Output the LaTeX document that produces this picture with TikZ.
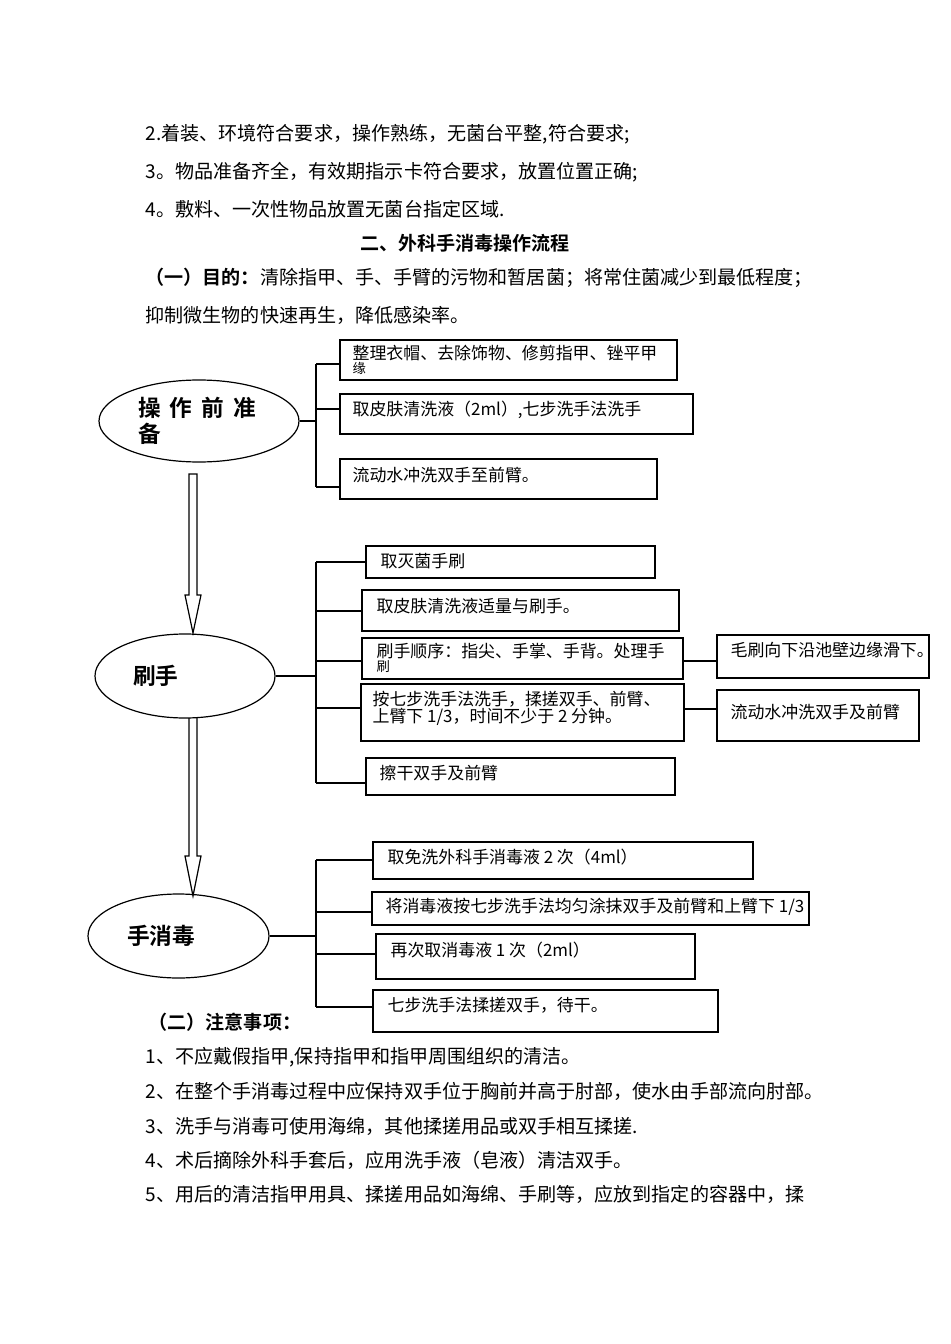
\documentclass[tikz,border=0pt]{standalone}
\usepackage{fontspec}
\setmainfont{Noto Sans CJK SC}[BoldFont={Noto Sans CJK SC Bold}]
\usetikzlibrary{shapes.geometric}

\tikzset{every picture/.style={line width=0.9pt}}
\tikzset{
  itembox/.style 2 args={draw, rectangle, inner sep=0pt, minimum width=#1*0.75pt, minimum height=#2*0.75pt},
  oval/.style n args={3}{draw, ellipse, inner sep=0pt, minimum width=#1*0.75pt, minimum height=#2*0.75pt, text width=#3*0.75pt, align=left, font=\bfseries\fontsize{17}{20}\selectfont},
  bodytext/.style={anchor=west, inner sep=0pt, font=\fontsize{14.3}{17}\selectfont},
  headtext/.style={inner sep=0pt, font=\bfseries\fontsize{14.3}{17}\selectfont},
  boxtext/.style={anchor=west, inner sep=0pt, align=left, font=\fontsize{12.7}{14}\selectfont},
}

\begin{document}
\begin{tikzpicture}[x=0.75pt,y=0.75pt,yscale=-1,xscale=1]
\useasboundingbox (0,0) rectangle (950,1344);

% Text Node
\node [bodytext] (l2) at (145,134) {2.着装、环境符合要求，操作熟练，无菌台平整,符合要求;};
% Text Node
\node [bodytext] (l3) at (145,172) {3。物品准备齐全，有效期指示卡符合要求，放置位置正确;};
% Text Node
\node [bodytext] (l4) at (145,209) {4。敷料、一次性物品放置无菌台指定区域.};
% Text Node
\node [headtext] (title) at (465,243) {二、外科手消毒操作流程};
% Text Node
\node [bodytext] (aim1) at (145,278) {\textbf{（一）目的：}清除指甲、手、手臂的污物和暂居菌；将常住菌减少到最低程度；};
% Text Node
\node [bodytext] (aim2) at (145,315) {抑制微生物的快速再生，降低感染率。};

%Shape: Ellipse
\node [oval={200}{82}{122}] (e1) at (199,421) {操\hspace{.4em}作\hspace{.4em}前\hspace{.4em}准\\备};
%Shape: Ellipse
\node [oval={180}{84}{104}] (e2) at (185,676) {刷手};
%Shape: Ellipse
\node [oval={181}{84}{103}] (e3) at (178.5,936) {手消毒};

%Shape: Down Arrow
\draw (189,474) -- (189,595) -- (185,595) -- (193,633) -- (201,595) -- (197,595) -- (197,474) -- cycle ;
%Shape: Down Arrow
\draw (189,718) -- (189,856) -- (185,856) -- (193,896) -- (201,856) -- (197,856) -- (197,718) ;

%Shape: Rectangle
\node [itembox={337}{40}] (a1) at (508.5,360) {};
\node [itembox={353}{40}] (a2) at (516.5,414) {};
\node [itembox={317}{40}] (a3) at (498.5,479) {};
% Text Node
\node [boxtext, anchor=north west] (a1t) at (352,345) {整理衣帽、去除饰物、修剪指甲、锉平甲\\[-4pt]{\fontsize{10}{10}\selectfont 缘}};
\node [boxtext] (a2t) at (352,410) {取皮肤清洗液（2ml）,七步洗手法洗手};
\node [boxtext] (a3t) at (352,475) {流动水冲洗双手至前臂。};

%Straight Lines
\coordinate (sa1) at (316,364);
\coordinate (sa2) at (316,409);
\coordinate (sa3) at (316,487);
\draw (e1.east) -- (e1.east -| sa1) ;
\draw (sa1) -- (sa3) ;
\draw (sa1) -- (sa1 -| a1.west) ;
\draw (sa2) -- (sa2 -| a2.west) ;
\draw (sa3) -- (sa3 -| a3.west) ;

%Shape: Rectangle
\node [itembox={289}{32}] (b1) at (510.5,562) {};
\node [itembox={317}{41}] (b2) at (520.5,610.5) {};
\node [itembox={321}{41}] (b3) at (522.5,658.5) {};
\node [itembox={323}{57}] (b4) at (522.5,712.5) {};
\node [itembox={309}{37}] (b5) at (520.5,776.5) {};
\node [itembox={212}{43}] (c1) at (823,656.5) {};
\node [itembox={202}{51}] (c2) at (818,715.5) {};
% Text Node
\node [boxtext] (b1t) at (380,561) {取灭菌手刷};
\node [boxtext] (b2t) at (376,606) {取皮肤清洗液适量与刷手。};
\node [boxtext, anchor=north west] (b3t) at (376,643) {刷手顺序：指尖、手掌、手背。处理手\\[-4pt]{\fontsize{10}{10}\selectfont 刷}};
\node [boxtext, font=\fontsize{12.7}{13}\selectfont] (b4t) at (372,708.5) {按七步洗手法洗手，揉搓双手、前臂、\\上臂下 1/3，时间不少于 2 分钟。};
\node [boxtext] (b5t) at (379,773) {擦干双手及前臂};
\node [boxtext] (c1t) at (730,650) {毛刷向下沿池壁边缘滑下。};
\node [boxtext] (c2t) at (730,712) {流动水冲洗双手及前臂};

%Straight Lines
\coordinate (sb1) at (316,562);
\coordinate (sb2) at (316,611);
\coordinate (sb3) at (316,661);
\coordinate (sb4) at (316,708);
\coordinate (sb5) at (316,783);
\draw (e2.east) -- (e2.east -| sb1) ;
\draw (sb1) -- (sb5) ;
\draw (sb1) -- (sb1 -| b1.west) ;
\draw (sb2) -- (sb2 -| b2.west) ;
\draw (sb3) -- (sb3 -| b3.west) ;
\draw (sb4) -- (sb4 -| b4.west) ;
\draw (sb5) -- (sb5 -| b5.west) ;
\coordinate (sc1) at (700,661);
\coordinate (sc2) at (700,709);
\draw (sc1 -| b3.east) -- (sc1 -| c1.west) ;
\draw (sc2 -| b4.east) -- (sc2 -| c2.west) ;

%Shape: Rectangle
\node [itembox={380}{37}] (d1) at (563,860.5) {};
\node [itembox={437}{33}] (d2) at (590.5,908.5) {};
\node [itembox={319}{45}] (d3) at (535.5,956.5) {};
\node [itembox={345}{42}] (d4) at (545.5,1011) {};
% Text Node
\node [boxtext] (d1t) at (387,857) {取免洗外科手消毒液 2 次（4ml）};
\node [boxtext] (d2t) at (385,907) {将消毒液按七步洗手法均匀涂抹双手及前臂和上臂下 1/3};
\node [boxtext] (d3t) at (390,950) {再次取消毒液 1 次（2ml）};
\node [boxtext] (d4t) at (387,1005) {七步洗手法揉搓双手，待干。};

%Straight Lines
\coordinate (sd1) at (316,860);
\coordinate (sd2) at (316,912);
\coordinate (sd3) at (316,954);
\coordinate (sd4) at (316,1007);
\draw (e3.east) -- (e3.east -| sd1) ;
\draw (sd1) -- (sd4) ;
\draw (sd1) -- (sd1 -| d1.west) ;
\draw (sd2) -- (sd2 -| d2.west) ;
\draw (sd3) -- (sd3 -| d3.west) ;
\draw (sd4) -- (sd4 -| d4.west) ;

% Text Node
\node [headtext, anchor=west] (note) at (148,1022) {（二）注意事项：};
\node [bodytext] (n1) at (145,1057) {1、不应戴假指甲,保持指甲和指甲周围组织的清洁。};
\node [bodytext] (n2) at (145,1091) {2、在整个手消毒过程中应保持双手位于胸前并高于肘部，使水由手部流向肘部。};
\node [bodytext] (n3) at (145,1126) {3、洗手与消毒可使用海绵，其他揉搓用品或双手相互揉搓.};
\node [bodytext] (n4) at (145,1160) {4、术后摘除外科手套后，应用洗手液（皂液）清洁双手。};
\node [bodytext] (n5) at (145,1194) {5、用后的清洁指甲用具、揉搓用品如海绵、手刷等，应放到指定的容器中，揉};

\end{tikzpicture}
\end{document}
